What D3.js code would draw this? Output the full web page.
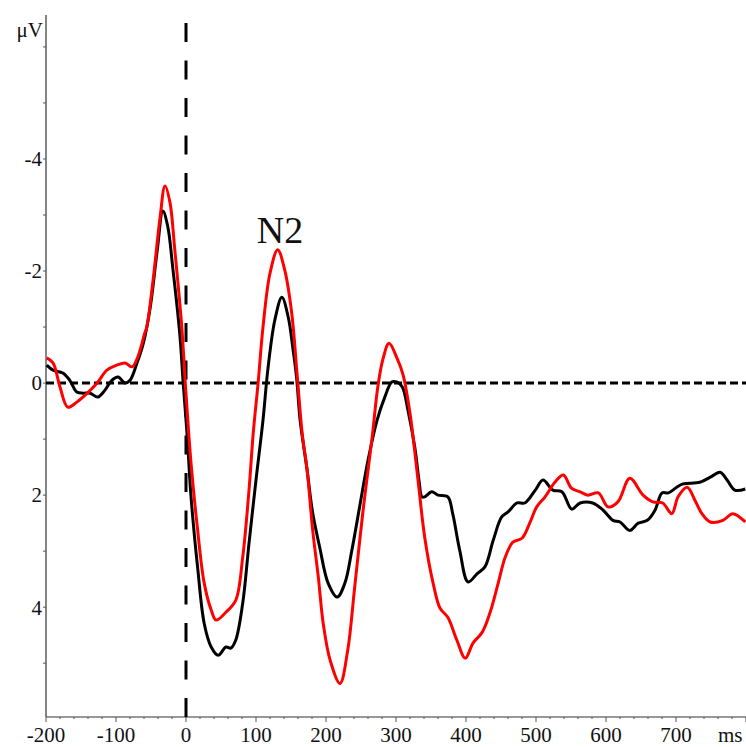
<!DOCTYPE html>
<html>
<head>
<meta charset="utf-8">
<script src="https://cdn.jsdelivr.net/npm/d3@7"></script>
<style>
  html, body { margin: 0; padding: 0; background: #fff; }
  svg { display: block; }
  text { font-family: "Liberation Serif", "Times New Roman", serif; fill: #111; }
</style>
</head>
<body>
<script>
// Grand-average ERP waveforms (µV, negative plotted upward), time in ms
const timesBlack = [-199,-190,-176,-166,-156,-147,-137,-126,-116,-106,-97,-87,-80,-70,-61,-51,-41,-33,-26,-19,-9,-4,2,
  7,17,26,36,46,57,64,71,81,90,100,110,117,127,137,146,153,158,163,173,181,191,203,216,227,237,249,260,273,284,294,301,
  309,317,327,333,337,341,351,360,374,381,391,403,416,427,439,451,460,473,484,499,510,524,537,551,563,581,596,610,620,
  634,646,659,670,680,689,701,710,734,749,763,773,784,799];
const ampBlack = [-0.32,-0.23,-0.18,-0.05,0.16,0.18,0.18,0.25,0.13,-0.05,-0.11,0.0,-0.05,-0.36,-0.71,-1.36,-2.38,-3.07,-2.79,-2.07,-0.89,0.0,1.0,
  2.0,3.34,4.29,4.71,4.86,4.71,4.73,4.59,3.93,2.86,1.73,0.66,-0.25,-1.13,-1.53,-1.18,-0.59,-0.1,0.66,1.55,2.32,2.93,3.57,3.82,
  3.57,2.98,2.14,1.38,0.66,0.25,-0.02,-0.02,0.07,0.48,1.16,1.75,2.03,2.03,1.94,2.0,2.03,2.33,2.98,3.55,3.4,3.28,2.8,2.39,2.3,
  2.14,2.14,1.91,1.73,1.91,1.94,2.25,2.14,2.14,2.27,2.45,2.48,2.63,2.5,2.45,2.27,1.96,1.96,1.86,1.8,1.77,1.68,1.59,1.73,1.91,1.89];

const timesRed = [-199,-190,-180,-169,-156,-141,-127,-113,-99,-87,-77,-69,-59,-56,-47,-37,-30,-23,-16,-6,-1,7,16,26,36,43,57,
  71,81,90,96,103,110,120,131,141,151,159,166,173,181,189,196,206,220,231,241,253,266,274,281,290,301,310,320,331,341,353,
  363,374,387,399,410,423,434,446,456,467,480,491,501,513,527,539,551,563,574,589,603,617,634,653,667,681,694,703,716,727,
  737,749,767,781,799];
const ampRed = [-0.45,-0.36,0.07,0.43,0.34,0.18,0.0,-0.23,-0.32,-0.36,-0.29,-0.46,-0.89,-1.0,-1.84,-2.96,-3.52,-3.23,-2.38,-1.0,0.0,1.4,2.55,3.57,4.05,4.23,4.09,
  3.88,3.11,1.91,0.9,0.0,-1.0,-1.96,-2.38,-2.02,-1.25,-0.11,0.9,1.55,2.63,3.46,4.29,4.95,5.36,4.77,3.64,2.27,0.96,0.07,-0.41,-0.71,-0.46,-0.15,0.54,1.68,2.75,3.57,
  4.02,4.18,4.59,4.91,4.64,4.45,4.11,3.57,3.11,2.84,2.77,2.5,2.21,2.03,1.77,1.64,1.88,1.94,2.0,1.96,2.21,2.12,1.7,2.0,2.12,2.14,2.33,2.03,1.86,2.09,
  2.33,2.48,2.45,2.33,2.48];

const xTickValues = [-200,-100,0,100,200,300,400,500,600,700];
const yTickLabels = [-4,-2,0,2,4];
const yTickMarks = [-6,-5,-4,-3,-2,-1,0,1,2,3,4,5];

const W = 746, H = 747;
const svg = d3.select("body").append("svg").attr("width", W).attr("height", H);

const x = d3.scaleLinear().domain([-200, 800]).range([46, 746]);
const y = d3.scaleLinear().domain([-6.57, 5.96]).range([15, 717]);

// axes
const axisColor = "#333";
svg.append("line").attr("x1", x(-200)).attr("x2", x(-200)).attr("y1", y(-6.57)).attr("y2", y(5.96))
  .attr("stroke", axisColor).attr("stroke-width", 1.2);
svg.append("line").attr("x1", x(-200)).attr("x2", x(800)).attr("y1", y(5.96)).attr("y2", y(5.96))
  .attr("stroke", axisColor).attr("stroke-width", 1.2);

// y ticks
svg.append("g").selectAll("line").data(yTickMarks).join("line")
  .attr("x1", x(-200) - 3).attr("x2", x(-200)).attr("y1", d => y(d)).attr("y2", d => y(d))
  .attr("stroke", "#555").attr("stroke-width", 1);
svg.append("g").selectAll("text").data(yTickLabels).join("text")
  .attr("x", x(-200) - 4).attr("y", d => y(d)).attr("dy", "0.35em")
  .attr("text-anchor", "end").attr("font-size", 21).text(d => d);

// x ticks: minor every 20 ms, labelled every 100 ms
const xMinor = d3.range(-200, 801, 20);
svg.append("g").selectAll("line").data(xMinor).join("line")
  .attr("x1", d => x(d)).attr("x2", d => x(d)).attr("y1", y(5.96)).attr("y2", d => y(5.96) + (d % 100 === 0 ? 5 : 2))
  .attr("stroke", "#555").attr("stroke-width", 1);
svg.append("g").selectAll("text").data(xTickValues).join("text")
  .attr("x", d => x(d)).attr("y", 742)
  .attr("text-anchor", "middle").attr("font-size", 21).text(d => d);

svg.append("text").attr("x", 43).attr("y", 37).attr("text-anchor", "end").attr("font-size", 21).text("μV");
svg.append("text").attr("x", 718).attr("y", 742).attr("font-size", 21).text("ms");

// reference lines: baseline and stimulus onset
svg.append("line").attr("x1", x(-200)).attr("x2", x(800)).attr("y1", y(0)).attr("y2", y(0))
  .attr("stroke", "#000").attr("stroke-width", 3).attr("stroke-dasharray", "8 4");
svg.append("line").attr("x1", x(0)).attr("x2", x(0)).attr("y1", y(5.96)).attr("y2", 22)
  .attr("stroke", "#000").attr("stroke-width", 3).attr("stroke-dasharray", "19 18.5");

// waveforms
const line = d3.line().x(d => x(d[0])).y(d => y(d[1])).curve(d3.curveCatmullRom.alpha(0.5));
svg.append("path").datum(d3.zip(timesBlack, ampBlack)).attr("d", line)
  .attr("fill", "none").attr("stroke", "#000").attr("stroke-width", 3).attr("stroke-linejoin", "round");
svg.append("path").datum(d3.zip(timesRed, ampRed)).attr("d", line)
  .attr("fill", "none").attr("stroke", "#ff0000").attr("stroke-width", 3).attr("stroke-linejoin", "round");

svg.append("text").attr("x", 280).attr("y", 243).attr("text-anchor", "middle").attr("font-size", 38).text("N2");
</script>
</body>
</html>
